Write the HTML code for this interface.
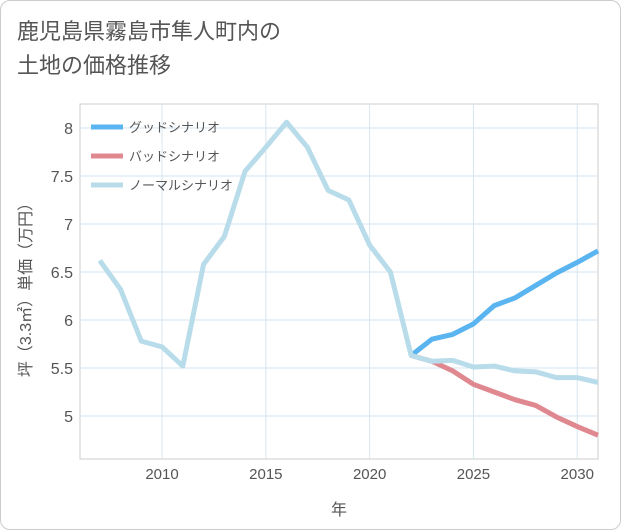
<!DOCTYPE html>
<html><head><meta charset="utf-8"><style>
body{margin:0;background:#fff;font-family:"Liberation Sans","Noto Sans CJK JP",sans-serif;}
#wrap{position:relative;width:619px;height:528px;border:1px solid #ccc;border-radius:10px;overflow:hidden;}
#title{position:absolute;left:16px;top:14px;font-size:22px;line-height:34px;color:#555;}
</style></head><body>
<div id="wrap">
<div id="title">鹿児島県霧島市隼人町内の<br>土地の価格推移</div>
<svg id="svg" width="621" height="530" style="position:absolute;left:0;top:0"></svg>
</div>
<script>
const years=[2007,2008,2009,2010,2011,2012,2013,2014,2015,2016,2017,2018,2019,2020,2021,2022,2023,2024,2025,2026,2027,2028,2029,2030,2031];
const normal=[6.62,6.32,5.78,5.72,5.52,6.58,6.87,7.55,7.8,8.06,7.8,7.35,7.25,6.78,6.5,5.63,5.57,5.58,5.51,5.52,5.47,5.46,5.40,5.40,5.35];
const fYears=[2022,2023,2024,2025,2026,2027,2028,2029,2030,2031];
const good=[5.63,5.80,5.85,5.96,6.15,6.23,6.36,6.49,6.60,6.72];
const bad=[5.63,5.57,5.47,5.33,5.25,5.17,5.11,4.99,4.89,4.80];
const xTicks=[2010,2015,2020,2025,2030];
const yTicks=[5,5.5,6,6.5,7,7.5,8];
const L=79,R=597,T=103,B=458;
const x=v=>78+(v-2006)*(597-78)/25;
const y=v=>127+(8-v)*96;
const svg=document.getElementById('svg');const NS='http://www.w3.org/2000/svg';
function mk(t,a,p){const e=document.createElementNS(NS,t);for(const k in a)e.setAttribute(k,a[k]);(p||svg).appendChild(e);return e;}
const bg=mk('rect',{x:L,y:T,width:R-L,height:B-T,fill:'#fff',stroke:'#ccc'});


xTicks.forEach(t=>{const g=mk('line',{x1:x(t),x2:x(t),y1:T,y2:B,stroke:'#d6e6f0'});


const tx=mk('text',{x:x(t),y:478,'text-anchor':'middle','font-size':15,fill:'#555'});tx.textContent=t;

});
yTicks.forEach(t=>{const g=mk('line',{x1:L,x2:R,y1:y(t),y2:y(t),stroke:'#d6e6f0'});


const tx=mk('text',{x:72,y:y(t)+6,'text-anchor':'end','font-size':16,fill:'#555'});tx.textContent=t;

});
const xt=mk('text',{x:338,y:514,'text-anchor':'middle','font-size':16,fill:'#555'});xt.textContent='年';


const yt=mk('text',{x:0,y:0,'text-anchor':'middle','font-size':16,fill:'#555',transform:'translate(30,285) rotate(-90)'});yt.textContent='坪（3.3㎡）単価（万円）';


function line(xs,vs,c,n){const p=mk('polyline',{points:xs.map((v,i)=>x(v)+','+y(vs[i])).join(' '),fill:'none',stroke:c,'stroke-width':5,'stroke-linejoin':'round'});

}
line(fYears,bad,'#e08890','bad-scenario-line');
line(fYears,good,'#5ab4f0','good-scenario-line');
line(years,normal,'#b8dcea','normal-scenario-line');
[['グッドシナリオ','#5ab4f0',126],['バッドシナリオ','#e08890',155],['ノーマルシナリオ','#b8dcea',184]].forEach(([t,c,yy])=>{
const l=mk('line',{x1:90,x2:122,y1:yy,y2:yy,stroke:c,'stroke-width':5});


const tx=mk('text',{x:128,y:yy+5,'font-size':13,fill:'#555'});tx.textContent=t;

});
</script>
</body></html>
